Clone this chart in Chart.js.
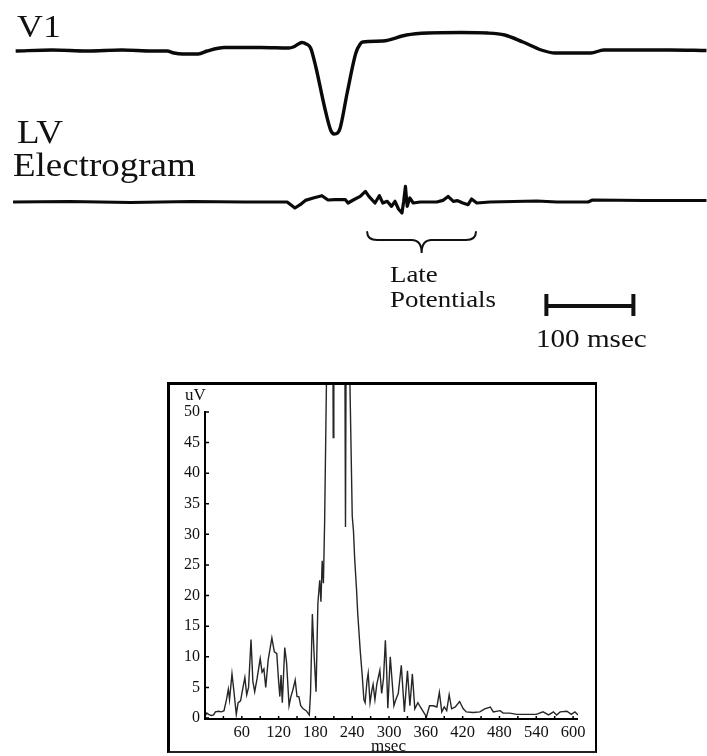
<!DOCTYPE html>
<html>
<head>
<meta charset="utf-8">
<script src="https://cdn.jsdelivr.net/npm/chart.js@4.4.1/dist/chart.umd.min.js"></script>
<style>
  html, body { margin: 0; padding: 0; background: #fff; }
  body { width: 707px; height: 756px; position: relative; overflow: hidden;
         font-family: "Liberation Serif", "DejaVu Serif", serif; color: #111; }
  .lbl { position: absolute; line-height: 1; white-space: nowrap;
         transform-origin: 0 0; transform: scaleX(1.12); }
  #traceCanvas { position: absolute; left: 0; top: 0; }
  #saecgBox { position: absolute; left: 167px; top: 382px; width: 430px; height: 371px;
              box-sizing: border-box; border-top: 3px solid #000; border-left: 3px solid #000;
              border-right: 2px solid #000; border-bottom: 2px solid #222; }
  #saecgCanvas { position: absolute; left: 167px; top: 382px; }
</style>
</head>
<body>

<canvas id="traceCanvas" width="707" height="375"></canvas>
<div id="saecgBox"></div>
<canvas id="saecgCanvas" width="430" height="371"></canvas>

<div class="lbl" style="left:17px; top:10px; font-size:32px;">V1</div>
<div class="lbl" style="left:17px; top:116px; font-size:33px;">LV</div>
<div class="lbl" style="left:13px; top:149px; font-size:33px;">Electrogram</div>
<div class="lbl" style="left:390px; top:262px; font-size:24px;">Late</div>
<div class="lbl" style="left:390px; top:287px; font-size:24px;">Potentials</div>
<div class="lbl" style="left:536px; top:326px; font-size:26px;">100 msec</div>
<div class="lbl" style="left:185px; top:386px; font-size:17px; transform:none;">uV</div>
<div class="lbl" style="left:371px; top:737px; font-size:17px; transform:none;">msec</div>

<script>
// ==========================================
// Data - surface traces (time in msec, amplitude in trace units)
// ==========================================
const TRACE_MS_MAX = 812.6;
const V1_BASE = -5.0;
const LV_BASE = -20.2;

const v1Ms  = [18, 60, 100, 140, 175, 192, 200, 210, 228, 238, 258, 300, 332, 337, 343, 347, 352, 357,
               363, 373, 380, 384, 388, 391, 399, 409, 414, 417, 440, 467, 492, 530, 560, 580, 601,
               622, 638, 660, 679, 694, 725, 770, 812];
const v1Amp = [-0.1, 0.0, -0.1, 0.0, -0.1, -0.1, -0.3, -0.4, -0.4, -0.1, 0.25, 0.25, 0.2, 0.3, 0.6, 0.75, 0.6, 0.2,
               -1.7, -5.7, -8.0, -8.4, -8.3, -7.8, -4.3, -0.3, 0.6, 0.8, 0.9, 1.5, 1.7, 1.75, 1.7, 1.5, 0.8,
               0.0, -0.3, -0.3, -0.3, 0.0, 0.0, 0.0, -0.05];

const lvMs  = [15, 80, 150, 220, 280, 322, 330, 333, 339, 345, 351, 360, 370, 377, 385, 397, 400, 406,
               414, 420, 424, 431, 436, 440, 445, 450, 454, 458, 462, 464, 466, 468, 471, 475, 483,
               502, 509, 515, 521, 526, 532, 538, 542, 548, 563, 617, 640, 676, 681, 740, 812];
const lvAmp = [0.0, 0.05, -0.05, 0.05, 0.0, 0.0, 0.0, -0.2, -0.6, -0.27, 0.16, 0.4, 0.63, 0.2, 0.23, 0.23, -0.1, 0.2,
               0.56, 1.06, 0.56, -0.1, 0.63, -0.1, 0.07, -0.44, 0.07, -0.7, -1.1, 0.07, 1.56, -0.44, 0.4, -0.1, 0.0,
               0.0, 0.16, 0.56, 0.07, 0.13, -0.1, -0.27, 0.3, -0.1, 0.0, 0.1, 0.0, 0.0, 0.2, 0.15, 0.15];

// late potential brace and 100 msec calibration bar
const braceMs = [422, 484.6, 547];
const braceY = { top: -23.2, mid: -24.0, tip: -25.3 };
const scaleBarMs = [628, 728];
const scaleBarY = { bar: -30.6, capTop: -29.4, capBottom: -31.6 };

// ==========================================
// Data - signal averaged ECG (msec, uV)
// ==========================================
const sagMs = [0, 3, 6, 10, 14, 17, 22, 27, 31, 35, 38, 40, 44, 47, 51, 54, 58, 61, 65, 68, 71, 75, 78, 81,
               85, 90, 93, 96, 99, 103, 109, 113, 117, 120, 122, 124, 126, 130, 133, 137, 140, 143, 147, 150,
               153, 156, 160, 165, 170, 172, 175, 178, 181, 184, 187, 189, 191, 193, 195, 198, 201, 205, 208,
               209, 210, 214, 220, 226, 228, 229, 230, 233, 236, 240, 242, 244, 247, 249, 253, 256, 259, 261,
               264, 266, 269, 272, 274, 277, 280, 285, 288, 291, 294, 296, 298, 302, 305, 308, 311, 315, 320,
               325, 330, 334, 338, 342, 347, 351, 356, 361, 366, 372, 378, 382, 386, 390, 394, 398, 402, 408,
               415, 421, 426, 437, 448, 456, 465, 470, 481, 486, 497, 508, 524, 540, 551, 560, 568, 573, 579,
               590, 597, 603, 608];
const sagUv = [0.3, 0.8, 0.6, 0.4, 0.5, 1.0, 1.1, 1.0, 1.2, 3.0, 4.7, 3.0, 7.2, 4.5, 0.6, 2.5, 2.8, 4.5, 6.6, 3.8, 5.0, 12.8, 6.0, 4.3,
               6.5, 9.7, 7.5, 8.0, 5.0, 9.5, 13.1, 10.8, 10.5, 6.0, 3.5, 7.0, 2.5, 11.5, 9.0, 2.0, 3.5, 4.5, 6.2, 3.5,
               3.5, 2.0, 1.5, 1.2, 0.5, 4.0, 17.0, 10.0, 4.3, 18.7, 22.5, 19.0, 25.7, 22.0, 32.0, 55, 80, 120, 75,
               45.8, 75, 130, 140, 110, 60, 31.2, 60, 100, 56, 33, 30.6, 26, 21, 17, 11, 7.3, 3.0, 2.5,
               6.0, 7.3, 2.5, 4.5, 5.5, 3.0, 5.5, 7.8, 4.0, 6.5, 12.7, 8.0, 1.6, 10.0, 6.0, 2.0, 3.0, 4.0, 8.6,
               1.0, 7.7, 2.0, 7.2, 1.5, 2.5, 1.8, 1.0, 0.2, 2.0, 2.0, 1.8, 4.2, 1.0, 1.8, 1.2, 3.8, 1.5, 1.8,
               2.7, 1.5, 1.0, 0.9, 1.0, 1.5, 1.8, 1.0, 1.2, 0.8, 0.8, 0.6, 0.6, 0.6, 1.0, 0.5, 1.0, 0.5, 1.0,
               1.1, 0.6, 1.0, 0.5];

const xTickLabels = [60, 120, 180, 240, 300, 360, 420, 480, 540, 600];
const xMinorStep = 30;
const yTickValues = [0, 5, 10, 15, 20, 25, 30, 35, 40, 45, 50];
const SAG_MS_MAX = 608;
const SAG_UV_MAX = 54.4;

const toPoints = (xs, ys, offset = 0) => xs.map((x, i) => ({ x, y: ys[i] + offset }));

// ==========================================
// Top chart: V1 + LV electrogram
// ==========================================
const tracePlugin = {
  id: 'traceAnnotations',
  afterDatasetsDraw(chart) {
    const { ctx, scales: { x, y } } = chart;
    ctx.save();
    ctx.strokeStyle = '#111';
    ctx.lineCap = 'round';

    // brace under the late potentials
    const bx0 = x.getPixelForValue(braceMs[0]);
    const bxm = x.getPixelForValue(braceMs[1]);
    const bx1 = x.getPixelForValue(braceMs[2]);
    const yt = y.getPixelForValue(braceY.top);
    const ym = y.getPixelForValue(braceY.mid);
    const yp = y.getPixelForValue(braceY.tip);
    const curl = 10;
    ctx.lineWidth = 2;
    ctx.beginPath();
    ctx.moveTo(bx0, yt);
    ctx.quadraticCurveTo(bx0, ym, bx0 + curl, ym);
    ctx.lineTo(bxm - curl, ym);
    ctx.quadraticCurveTo(bxm, ym, bxm, yp);
    ctx.quadraticCurveTo(bxm, ym, bxm + curl, ym);
    ctx.lineTo(bx1 - curl, ym);
    ctx.quadraticCurveTo(bx1, ym, bx1, yt);
    ctx.stroke();

    // 100 msec bar
    const sx0 = x.getPixelForValue(scaleBarMs[0]);
    const sx1 = x.getPixelForValue(scaleBarMs[1]);
    ctx.lineWidth = 4;
    ctx.lineCap = 'butt';
    ctx.beginPath();
    ctx.moveTo(sx0, y.getPixelForValue(scaleBarY.bar));
    ctx.lineTo(sx1, y.getPixelForValue(scaleBarY.bar));
    [sx0, sx1].forEach(sx => {
      ctx.moveTo(sx, y.getPixelForValue(scaleBarY.capTop));
      ctx.lineTo(sx, y.getPixelForValue(scaleBarY.capBottom));
    });
    ctx.stroke();
    ctx.restore();
  }
};

new Chart(document.getElementById('traceCanvas'), {
  type: 'line',
  data: {
    datasets: [
      { data: toPoints(v1Ms, v1Amp, V1_BASE), borderColor: '#0a0a0a', borderWidth: 3.4,
        borderJoinStyle: 'round', pointRadius: 0, cubicInterpolationMode: 'monotone' },
      { data: toPoints(lvMs, lvAmp, LV_BASE), borderColor: '#0a0a0a', borderWidth: 3.2,
        borderJoinStyle: 'round', pointRadius: 0, tension: 0 }
    ]
  },
  options: {
    responsive: false,
    animation: false,
    events: [],
    layout: { padding: 0 },
    plugins: { legend: { display: false }, tooltip: { enabled: false } },
    scales: {
      x: { type: 'linear', display: false, min: 0, max: TRACE_MS_MAX },
      y: { display: false, min: -37.5, max: 0 }
    }
  },
  plugins: [tracePlugin]
});

// ==========================================
// Bottom chart: signal averaged ECG
// ==========================================
const axisPlugin = {
  id: 'sagAxes',
  afterDatasetsDraw(chart) {
    const { ctx, chartArea, scales: { x, y } } = chart;
    const y0 = y.getPixelForValue(0);
    const yTop = y.getPixelForValue(yTickValues[yTickValues.length - 1]);
    const xl = chartArea.left;
    ctx.save();
    ctx.strokeStyle = '#000';
    ctx.lineWidth = 2;
    ctx.beginPath();
    ctx.moveTo(xl, yTop - 1);
    ctx.lineTo(xl, y0 + 1);
    ctx.lineTo(chartArea.right, y0 + 1);
    ctx.stroke();

    ctx.lineWidth = 1.5;
    ctx.beginPath();
    yTickValues.forEach(v => {
      const py = y.getPixelForValue(v);
      ctx.moveTo(xl, py);
      ctx.lineTo(xl + 4, py);
    });
    for (let t = 0; t <= 600; t += xMinorStep) {
      const px = x.getPixelForValue(t);
      ctx.moveTo(px, y0 + 1);
      ctx.lineTo(px, y0 - 2);
    }
    ctx.stroke();
    ctx.restore();
  }
};

const serif = '"Liberation Serif", serif';

new Chart(document.getElementById('saecgCanvas'), {
  type: 'line',
  data: {
    datasets: [{
      data: toPoints(sagMs, sagUv),
      borderColor: '#262626',
      borderWidth: 1.4,
      pointRadius: 0,
      tension: 0
    }]
  },
  options: {
    responsive: false,
    animation: false,
    events: [],
    layout: { padding: { top: 3, right: 19, left: 0, bottom: 0 } },
    plugins: { legend: { display: false }, tooltip: { enabled: false } },
    scales: {
      x: {
        type: 'linear', min: 0, max: SAG_MS_MAX,
        grid: { display: false, drawTicks: false },
        border: { display: false },
        afterBuildTicks: s => { s.ticks = xTickLabels.map(v => ({ value: v })); },
        afterFit: s => { s.height = 35; s.paddingLeft = 0; s.paddingRight = 0; },
        ticks: { font: { family: serif, size: 16.5 }, color: '#111', padding: 5, maxRotation: 0, autoSkip: false }
      },
      y: {
        min: 0, max: SAG_UV_MAX,
        grid: { display: false, drawTicks: false },
        border: { display: false },
        afterBuildTicks: s => { s.ticks = yTickValues.map(v => ({ value: v })); },
        afterFit: s => { s.width = 38; s.paddingTop = 0; s.paddingBottom = 0; },
        ticks: { font: { family: serif, size: 16 }, color: '#111', padding: 5, autoSkip: false }
      }
    }
  },
  plugins: [axisPlugin]
});
</script>
</body>
</html>
